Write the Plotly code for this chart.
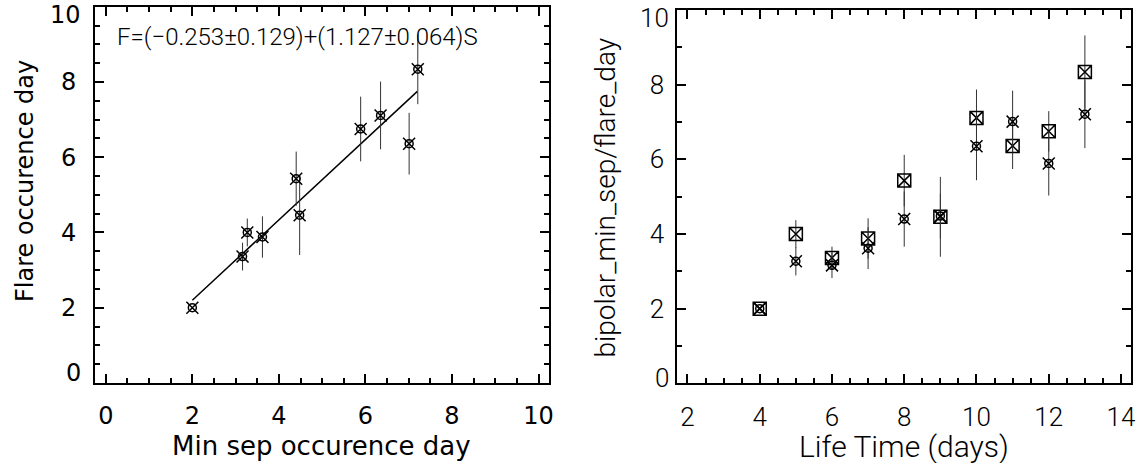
import plotly.graph_objects as go

# Data, ordered by active-region life time
lifetime = [4, 5, 6, 7, 8, 9, 10, 11, 12, 13]
min_sep_day = [2.00, 3.27, 3.16, 3.62, 4.40, 4.48, 6.35, 7.01, 5.89, 7.21]
flare_day = [2.00, 4.00, 3.36, 3.88, 5.43, 4.46, 7.11, 6.36, 6.75, 8.34]
flare_err_left = [0, 0.37, 0.37, 0.55, 0.72, 1.06, 0.90, 0.82, 0.86, 0.93]
flare_err_right = [0, 0.37, 0.30, 0.54, 0.69, 1.07, 0.76, 0.62, 0.54, 0.98]
min_sep_err_right = [0, 0.38, 0.34, 0.56, 0.74, 0.60, 0.91, 0.83, 0.86, 0.91]

# linear fit drawn in the left panel
fit_x = [2.0, 7.2]
fit_y = [2.2, 7.75]
fit_text = 'F=(\u22120.253\u00b10.129)+(1.127\u00b10.064)S'

y_ticks = [0, 2, 4, 6, 8, 10]

bold_font = 'DejaVu Sans'
thin_font = 'Roboto'

fig = go.Figure()

def cross_circle(x, y, xa, ya, err = None):
    # IDL-like symbol: an X with a small circle on top
    traces = [go.Scatter(
        x = x, y = y, mode = 'markers',
        marker = dict(symbol = 'x-thin-open', size = 12, color = 'black',
                      line = dict(color = 'black', width = 1.5)),
        xaxis = xa, yaxis = ya, showlegend = False),
        go.Scatter(
        x = x, y = y, mode = 'markers',
        marker = dict(symbol = 'circle-open', size = 8, color = 'black',
                      line = dict(color = 'black', width = 1.5)),
        xaxis = xa, yaxis = ya, showlegend = False)]
    if err is not None:
        traces[0].error_y = dict(type = 'data', array = err, color = '#333',
                                 thickness = 1, width = 0)
    return traces

#Left panel
fig.add_trace(go.Scatter(
    x = fit_x, y = fit_y, mode = 'lines',
    line = dict(color = 'black', width = 1.5),
    xaxis = 'x', yaxis = 'y', showlegend = False))
for tr in cross_circle(min_sep_day, flare_day, 'x', 'y', flare_err_left):
    fig.add_trace(tr)

#Right panel
fig.add_trace(go.Scatter(
    x = lifetime, y = flare_day, mode = 'markers',
    error_y = dict(type = 'data', array = flare_err_right, color = '#333',
                   thickness = 1, width = 0),
    marker = dict(symbol = 'square-x-open', size = 13, color = 'black',
                  line = dict(color = 'black', width = 1.5)),
    xaxis = 'x2', yaxis = 'y2', showlegend = False))
for tr in cross_circle(lifetime, min_sep_day, 'x2', 'y2', min_sep_err_right):
    fig.add_trace(tr)

def axis_style(domain, rng, minor_dtick, font, anchor, standoff):
    return dict(
        domain = domain, range = rng, anchor = anchor, automargin = False,
        showgrid = False, zeroline = False,
        showline = True, linecolor = 'black', linewidth = 2, mirror = 'ticks',
        ticks = 'inside', ticklen = 9, tickwidth = 1.5, tickcolor = 'black',
        tick0 = 0, dtick = 2,
        minor = dict(ticks = 'inside', ticklen = 5, tickwidth = 1.5,
                     tickcolor = 'black', dtick = minor_dtick, tick0 = 0),
        tickfont = font, ticklabelstandoff = standoff,
        ticklabeloverflow = 'allow')

left_tick_font = dict(family = bold_font, size = 24, color = 'black')
right_tick_font = dict(family = thin_font, size = 26, color = 'black', weight = 300)

yaxis = axis_style([0.1728, 0.9855], [0, 10], 0.5, left_tick_font, 'x', 12)
yaxis2 = axis_style([0.1721, 0.9784], [0, 10], 1, right_tick_font, 'x2', 6)
# the end labels (0 and 10) sit nudged inward in the original, so they are added below
for ax in (yaxis, yaxis2):
    ax['tickvals'] = y_ticks[1:-1]
    ax['minor']['tickvals'] = None

annotations = [
    dict(text = fit_text, x = 0.2603, y = 0.920, xref = 'paper', yref = 'paper',
         showarrow = False, xanchor = 'center', yanchor = 'middle',
         font = dict(family = thin_font, size = 24, color = 'black', weight = 300)),
    dict(text = 'Min sep occurence day', x = 321 / 1143, y = 1 - 446 / 463,
         xref = 'paper', yref = 'paper', showarrow = False,
         xanchor = 'center', yanchor = 'middle',
         font = dict(family = bold_font, size = 26, color = 'black')),
    dict(text = 'Flare occurence day', x = 25 / 1143, y = 1 - 181 / 463,
         xref = 'paper', yref = 'paper', showarrow = False, textangle = -90,
         xanchor = 'center', yanchor = 'middle',
         font = dict(family = bold_font, size = 24, color = 'black')),
    dict(text = 'Life Time (days)', x = 904 / 1143, y = 1 - 446 / 463,
         xref = 'paper', yref = 'paper', showarrow = False,
         xanchor = 'center', yanchor = 'middle',
         font = dict(family = thin_font, size = 30, color = 'black', weight = 300)),
    dict(text = 'bipolar_min_sep/flare_day', x = 605 / 1143, y = 1 - 197.5 / 463,
         xref = 'paper', yref = 'paper', showarrow = False, textangle = -90,
         xanchor = 'center', yanchor = 'middle',
         font = dict(family = thin_font, size = 28, color = 'black', weight = 300)),
]
for yref, xpos, font, shifts in (('y', 83, left_tick_font, (10, -8)),
                                 ('y2', 671, right_tick_font, (5, -8))):
    for val, shift in zip((y_ticks[0], y_ticks[-1]), shifts):
        annotations.append(dict(
            text = str(val), x = xpos / 1143, y = val, xref = 'paper', yref = yref,
            yshift = shift, showarrow = False, xanchor = 'right', yanchor = 'middle',
            font = font))

fig.update_layout(
    width = 1143, height = 463,
    paper_bgcolor = 'white', plot_bgcolor = 'white',
    margin = dict(l = 0, r = 0, t = 0, b = 0, autoexpand = False),
    showlegend = False,
    xaxis = axis_style([0.0831, 0.4806], [-0.25, 10.25], 0.5, left_tick_font, 'y', 10),
    yaxis = yaxis,
    xaxis2 = axis_style([0.5926, 0.9893], [1.72, 14.27], 0.5, right_tick_font, 'y2', 9),
    yaxis2 = yaxis2,
    annotations = annotations)

# the page's default body margin would shift the figure by 8px
fig.write_html('out.html', config = dict(displayModeBar = False),
               post_script = "document.body.style.margin = '0';")
